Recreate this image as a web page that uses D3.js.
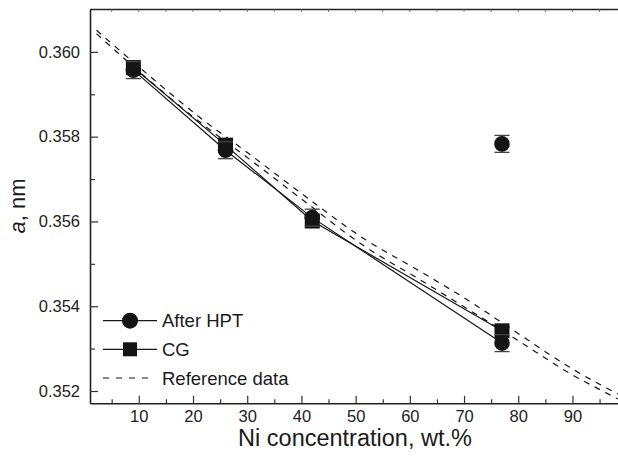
<!DOCTYPE html>
<html>
<head>
<meta charset="utf-8">
<script src="https://cdn.jsdelivr.net/npm/d3@7"></script>
<style>
  body { margin: 0; background: #fff; }
  svg { display: block; font-family: "Liberation Sans", Arial, Helvetica, sans-serif; }
</style>
</head>
<body>
<svg id="chart" width="618" height="463"></svg>
<script>
// Ni content, wt.%
var niContent = [9, 26, 42, 77]
// lattice parameter a, nm
var hptValues = [0.35957, 0.35768, 0.35609, 0.35313]
var cgValues  = [0.35963, 0.35780, 0.35601, 0.35342]
var hptOutlier = { x: 77, y: 0.35783 }
var errHalf = 0.0002

// reference data, two dashed curves
var refUpperX = [2.2, 12.0, 21.2, 30.4, 39.7, 51.7, 61.8, 71.6, 79.0, 90.4, 96.3, 98.4]
var refUpperY = [0.36051, 0.35943, 0.35846, 0.35759, 0.35669, 0.35558, 0.35483, 0.35407, 0.35344, 0.35249, 0.35207, 0.35193]
var refLowerX = [2.2, 12.0, 21.2, 30.4, 39.7, 51.7, 61.8, 71.6, 79.0, 90.4, 96.3, 98.4]
var refLowerY = [0.36043, 0.35932, 0.35835, 0.35747, 0.35656, 0.35541, 0.35463, 0.35386, 0.35327, 0.35235, 0.35195, 0.35181]

var xMajor = [10, 20, 30, 40, 50, 60, 70, 80, 90]
var xMinor = [5, 15, 25, 35, 45, 55, 65, 75, 85, 95]
var yMajor = [0.352, 0.354, 0.356, 0.358, 0.360]
var yMinor = [0.353, 0.355, 0.357, 0.359]

var legendItems = ["After HPT", "CG", "Reference data"]

var svg = d3.select("#chart")
var plotLeft = 90, plotTop = 9.5, plotBottom = 403.3

var x = d3.scaleLinear().domain([1, 100]).range([plotLeft, plotLeft + 99 * 5.421])
var y = d3.scaleLinear().domain([0.35171, 0.361]).range([plotBottom, plotTop])

var ink = "#151515"

// top frame line with tiny ticks
svg.append("line")
  .attr("x1", plotLeft).attr("x2", 618).attr("y1", plotTop).attr("y2", plotTop)
  .attr("stroke", "#222").attr("stroke-width", 1.6)
svg.append("g").selectAll("line")
  .data(xMajor.concat(xMinor))
  .enter().append("line")
  .attr("x1", function(d){ return x(d) }).attr("x2", function(d){ return x(d) })
  .attr("y1", plotTop).attr("y2", plotTop + 2.5)
  .attr("stroke", "#777").attr("stroke-width", 1)

// bottom axis
var gx = svg.append("g").attr("transform", "translate(0," + plotBottom + ")")
gx.call(d3.axisBottom(x).tickValues(xMajor).tickSizeInner(-7.5).tickSizeOuter(0).tickPadding(7).tickFormat(d3.format("d")))
var gxm = svg.append("g").attr("transform", "translate(0," + plotBottom + ")")
gxm.call(d3.axisBottom(x).tickValues(xMinor).tickSizeInner(-4).tickSizeOuter(0).tickFormat(""))
gxm.select(".domain").remove()
gxm.selectAll(".tick text").remove()

// left axis
var gy = svg.append("g").attr("transform", "translate(" + plotLeft + ",0)")
gy.call(d3.axisLeft(y).tickValues(yMajor).tickSizeInner(-8).tickSizeOuter(0).tickPadding(10).tickFormat(d3.format(".3f")))
var gym = svg.append("g").attr("transform", "translate(" + plotLeft + ",0)")
gym.call(d3.axisLeft(y).tickValues(yMinor).tickSizeInner(-5).tickSizeOuter(0).tickFormat(""))
gym.select(".domain").remove()
gym.selectAll(".tick text").remove()

svg.selectAll(".domain").attr("stroke", "#222").attr("stroke-width", 1.6)
svg.selectAll(".tick line").attr("stroke", "#333").attr("stroke-width", 1.2)
svg.selectAll(".tick text").attr("font-size", "16.5px").attr("fill", "#222")
  .attr("font-family", "'Liberation Sans', Arial, sans-serif")

// axis titles
svg.append("text")
  .attr("x", 355).attr("y", 446)
  .attr("text-anchor", "middle").attr("font-size", "23.5px").attr("fill", "#1a1a1a")
  .text("Ni concentration, wt.%")

var yt = svg.append("text")
  .attr("transform", "translate(25,206) rotate(-90)")
  .attr("text-anchor", "middle").attr("font-size", "22px").attr("fill", "#1a1a1a")
yt.append("tspan").attr("font-style", "italic").text("a")
yt.append("tspan").text(", nm")

// reference curves
var refLine = d3.line().curve(d3.curveMonotoneX)
  .x(function(d){ return x(d[0]) }).y(function(d){ return y(d[1]) })
;[[refUpperX, refUpperY], [refLowerX, refLowerY]].forEach(function(r){
  svg.append("path")
    .datum(d3.zip(r[0], r[1]))
    .attr("d", refLine)
    .attr("fill", "none").attr("stroke", ink).attr("stroke-width", 1.2)
    .attr("stroke-dasharray", "6,6")
})

// solid series lines
var serLine = d3.line().x(function(d){ return x(d[0]) }).y(function(d){ return y(d[1]) })
;[cgValues, hptValues].forEach(function(vals){
  svg.append("path")
    .datum(d3.zip(niContent, vals))
    .attr("d", serLine)
    .attr("fill", "none").attr("stroke", ink).attr("stroke-width", 1.2)
})

// CG squares
var sq = 15
svg.append("g").selectAll("rect")
  .data(d3.zip(niContent, cgValues))
  .enter().append("rect")
  .attr("x", function(d){ return x(d[0]) - sq / 2 })
  .attr("y", function(d){ return y(d[1]) - sq / 2 })
  .attr("width", sq).attr("height", sq)
  .attr("fill", ink)

// HPT circles with error bars
var hptPts = d3.zip(niContent, hptValues).concat([[hptOutlier.x, hptOutlier.y]])
var eb = svg.append("g").attr("stroke", "#444").attr("stroke-width", 1.3)
hptPts.forEach(function(d){
  var cx = x(d[0]), y0 = y(d[1] - errHalf), y1 = y(d[1] + errHalf)
  eb.append("line").attr("x1", cx).attr("x2", cx).attr("y1", y0).attr("y2", y1)
  eb.append("line").attr("x1", cx - 7.5).attr("x2", cx + 7.5).attr("y1", y0).attr("y2", y0)
  eb.append("line").attr("x1", cx - 7.5).attr("x2", cx + 7.5).attr("y1", y1).attr("y2", y1)
})
svg.append("g").selectAll("circle")
  .data(hptPts)
  .enter().append("circle")
  .attr("cx", function(d){ return x(d[0]) })
  .attr("cy", function(d){ return y(d[1]) })
  .attr("r", 7.8)
  .attr("fill", ink)

// legend
var lg = svg.append("g")
var rowY = [320.7, 349.3, 378]
legendItems.forEach(function(name, i){
  var ly = rowY[i]
  if (i < 2) {
    lg.append("line").attr("x1", 103).attr("x2", 157).attr("y1", ly).attr("y2", ly)
      .attr("stroke", ink).attr("stroke-width", 1.2)
    if (i == 0) lg.append("circle").attr("cx", 130).attr("cy", ly).attr("r", 8).attr("fill", ink)
    else lg.append("rect").attr("x", 123).attr("y", ly - 7).attr("width", 14).attr("height", 14).attr("fill", ink)
  } else {
    lg.append("line").attr("x1", 103).attr("x2", 150).attr("y1", ly).attr("y2", ly)
      .attr("stroke", ink).attr("stroke-width", 1.2).attr("stroke-dasharray", "6,7")
  }
  lg.append("text").attr("x", 162).attr("y", ly).attr("dy", "0.36em")
    .attr("font-size", "18.5px").attr("fill", "#1a1a1a").text(name)
})
</script>
</body>
</html>
